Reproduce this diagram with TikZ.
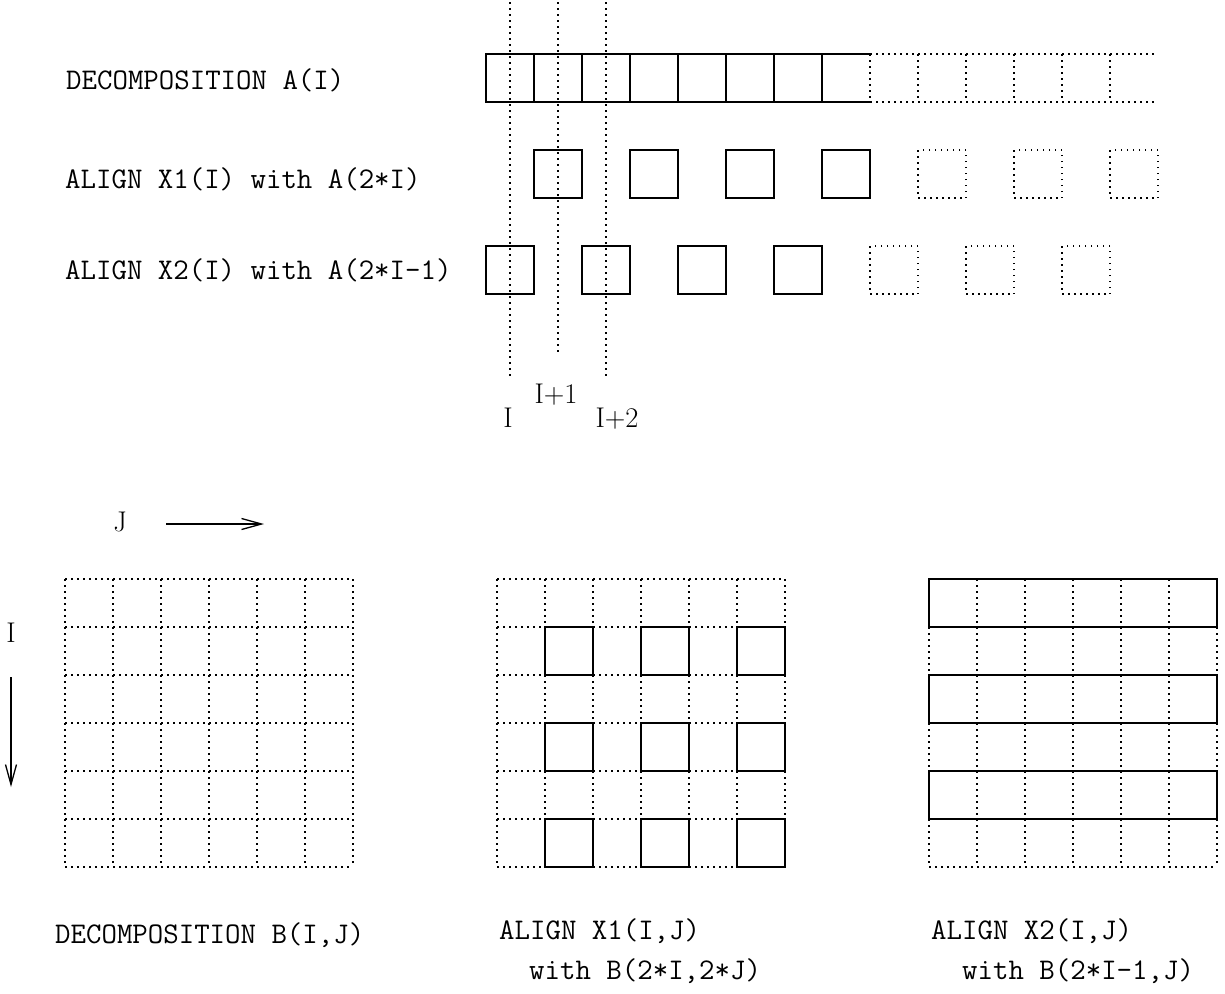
\documentclass[tikz,border=0pt]{standalone}
\usetikzlibrary{arrows.meta}
\begin{document}
\begin{tikzpicture}[x=1pt,y=-1pt,
  solidline/.style={line width=1.3pt},
  dotline/.style={line width=1.7pt, dash pattern=on 1.5pt off 4.5pt},
  ttlabel/.style={font=\fontsize{30}{33}\selectfont\ttfamily, inner sep=0pt, anchor=base west},
  rmlabel/.style={font=\fontsize{28.5}{30}\selectfont, inner sep=0pt, anchor=base},
  arr/.style={line width=1.3pt, -{Straight Barb[length=20pt,width=11pt,line width=1.3pt]}}]
\fill[white] (0,0) rectangle (1225,993);
\useasboundingbox (0,0) rectangle (1225,993);

% ---------- top: one-dimensional ----------
% decomposition A(I)
\draw[dotline] (870,54) -- (1158,54) (870,102) -- (1158,102);
\foreach \i in {8,...,13} \draw[dotline] ({486+48*\i},54) -- ++(0,48);
\draw[solidline] (870,54) -- (486,54) -- (486,102) -- (870,102);
\foreach \i in {1,...,7} \draw[solidline] ({486+48*\i},54) -- ++(0,48);

% X1 boxes
\foreach \k in {1,...,4} \draw[solidline] ({486+48*(2*\k-1)},150) rectangle ++(48,48);
\foreach \k in {5,...,7} \draw[dotline] ({486+48*(2*\k-1)},150) rectangle ++(48,48);
% X2 boxes
\foreach \k in {1,...,4} \draw[solidline] ({486+48*(2*\k-2)},246) rectangle ++(48,48);
\foreach \k in {5,...,7} \draw[dotline] ({486+48*(2*\k-2)},246) rectangle ++(48,48);

% index lines
\coordinate (v1t) at (510,2);   \coordinate (v1b) at (510,377);
\coordinate (v2t) at (558,2);   \coordinate (v2b) at (558,353);
\coordinate (v3t) at (606,2);   \coordinate (v3b) at (606,377);
\draw[dotline] (v1t) -- (v1b);
\draw[dotline] (v2t) -- (v2b);
\draw[dotline] (v3t) -- (v3b);
\node[rmlabel] (lI)  at (508,427) {I};
\node[rmlabel] (lI1) at (556,403) {I+1};
\node[rmlabel] (lI2) at (617,427) {I+2};

% labels
\node[ttlabel] (decA) at (66,89)  {DECOMPOSITION A(I)};
\node[ttlabel] (alX1) at (65,188) {ALIGN X1(I) with A(2*I)};
\node[ttlabel] (alX2) at (65,279) {ALIGN X2(I) with A(2*I-1)};

% ---------- bottom: two-dimensional ----------
\node[rmlabel] (lJ) at (120,531) {J};
\coordinate (ja) at (166,524); \coordinate (jb) at (264,524);
\draw[arr] (ja) -- (jb);
\node[rmlabel] (lIv) at (11,642) {I};
\coordinate (ia) at (11,677); \coordinate (ib) at (11,787);
\draw[arr] (ia) -- (ib);

% grid 1
\foreach \i in {0,...,6} {
  \draw[dotline] ({65+48*\i},579) -- ++(0,288);
  \draw[dotline] (65,{579+48*\i}) -- ++(288,0);
}
% grid 2
\foreach \i in {0,...,6} {
  \draw[dotline] ({497+48*\i},579) -- ++(0,288);
  \draw[dotline] (497,{579+48*\i}) -- ++(288,0);
}
\foreach \c in {1,3,5} \foreach \r in {1,3,5}
  \draw[solidline] ({497+48*\c},{579+48*\r}) rectangle ++(48,48);
% grid 3
\foreach \i in {0,...,6} {
  \draw[dotline] ({929+48*\i},579) -- ++(0,288);
  \draw[dotline] (929,{579+48*\i}) -- ++(288,0);
}
\foreach \r in {0,2,4}
  \draw[solidline] (929,{579+48*\r}) rectangle ++(288,48);

\node[ttlabel] (decB) at (55,943)  {DECOMPOSITION B(I,J)};
\node[ttlabel] (bX1a) at (499,939) {ALIGN X1(I,J)};
\node[ttlabel] (bX1b) at (529,979) {with B(2*I,2*J)};
\node[ttlabel] (bX2a) at (931,939) {ALIGN X2(I,J)};
\node[ttlabel] (bX2b) at (962,979) {with B(2*I-1,J)};
\end{tikzpicture}
\end{document}
